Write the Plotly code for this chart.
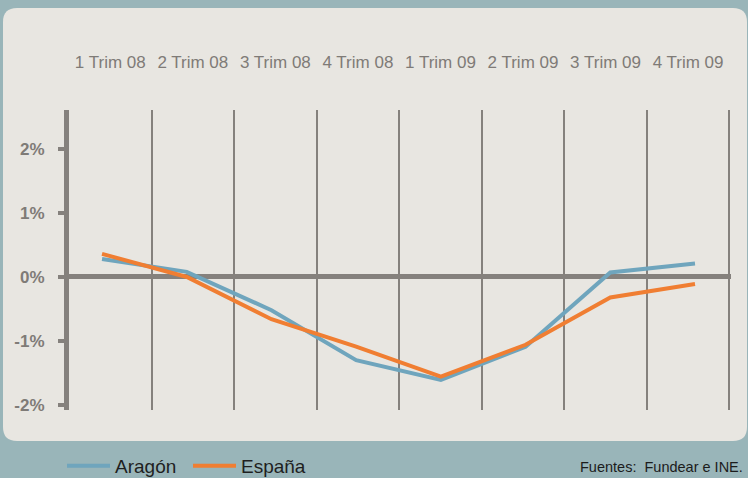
import plotly.graph_objects as go

# datos: variación trimestral (%)
trimestres = ["1 Trim 08", "2 Trim 08", "3 Trim 08", "4 Trim 08",
              "1 Trim 09", "2 Trim 09", "3 Trim 09", "4 Trim 09"]
aragon = [0.28, 0.08, -0.52, -1.30, -1.61, -1.09, 0.07, 0.21]
espana = [0.36, 0.00, -0.66, -1.09, -1.56, -1.06, -0.32, -0.11]
y_ticks = [-2, -1, 0, 1, 2]
y_labels = ["-2%", "-1%", "0%", "1%", "2%"]

W, H = 748, 478
L, R, T, B = 69, 17, 110, 68
GRIS = "#85817d"
FONDO = "#99b5b9"
PANEL = "#e8e6e1"


def px2paper(px, py):
    return (px - L) / (W - L - R), (H - B - py) / (H - T - B)


def rounded_rect(x0, y0, x1, y1, r):
    # ruta svg de un rectángulo redondeado, en coordenadas de papel
    def p(x, y):
        a, b = px2paper(x, y)
        return f"{a:.5f},{b:.5f}"
    return " ".join([
        f"M {p(x0 + r, y0)}", f"L {p(x1 - r, y0)}",
        f"Q {p(x1, y0)} {p(x1, y0 + r)}", f"L {p(x1, y1 - r)}",
        f"Q {p(x1, y1)} {p(x1 - r, y1)}", f"L {p(x0 + r, y1)}",
        f"Q {p(x0, y1)} {p(x0, y1 - r)}", f"L {p(x0, y0 + r)}",
        f"Q {p(x0, y0)} {p(x0 + r, y0)} Z",
    ])


fig = go.Figure()

# traza invisible para que el eje de categorías tenga etiquetas y rejilla
fig.add_trace(go.Scatter(x=trimestres, y=[None] * len(trimestres), xaxis="x",
                         showlegend=False, hoverinfo="skip"))

fig.add_trace(go.Scatter(x=trimestres, y=aragon, name="Aragón", mode="lines",
                         xaxis="x2", line=dict(color="#6fa5bd", width=4)))
fig.add_trace(go.Scatter(x=trimestres, y=espana, name="España", mode="lines",
                         xaxis="x2", line=dict(color="#f07e32", width=4)))

fig.add_shape(type="path", xref="paper", yref="paper", layer="below",
              path=rounded_rect(3, 8, 747, 441, 14),
              fillcolor=PANEL, line=dict(width=0))

fig.add_annotation(text="Fuentes:  Fundear e INE.", xref="paper", yref="paper",
                   x=px2paper(745, 0)[0], y=px2paper(0, 467)[1],
                   xanchor="right", yanchor="middle", showarrow=False,
                   font=dict(size=14.5, color="#1c1c1c"))

fig.update_layout(
    width=W, height=H,
    margin=dict(l=L, r=R, t=T, b=B, autoexpand=False),
    paper_bgcolor=FONDO, plot_bgcolor=PANEL,
    font=dict(family="Liberation Sans, Arial, sans-serif", color=GRIS),
    xaxis=dict(type="category", side="top", range=[-0.5, 7.52],
               tickson="boundaries", ticks="", showgrid=True,
               gridcolor=GRIS, gridwidth=2, showline=False, zeroline=False,
               ticklabelstandoff=38, tickfont=dict(size=17, color="#7f7b77"),
               fixedrange=True),
    xaxis2=dict(type="category", overlaying="x", visible=False,
                range=[-0.39, 7.425]),
    yaxis=dict(range=[-2.08, 2.61], tickvals=y_ticks, ticktext=y_labels,
               showgrid=False, showline=True, linecolor=GRIS, linewidth=5,
               ticks="outside", ticklen=6, tickwidth=4, tickcolor=GRIS,
               zeroline=True, zerolinecolor=GRIS, zerolinewidth=5,
               ticklabelstandoff=10,
               tickfont=dict(size=17, color="#7f7b77",
                             family="Liberation Sans, Arial, sans-serif",
                             weight="bold")),
    legend=dict(orientation="h", x=px2paper(62, 0)[0], y=px2paper(0, 466)[1],
                xanchor="left", yanchor="middle", bgcolor="rgba(0,0,0,0)",
                itemwidth=43, entrywidth=68,
                font=dict(size=19, color="#1f1f1f")),
    showlegend=True,
)

fig.write_html("out.html", config={"displayModeBar": False},
               post_script="document.body.style.margin='0';")
